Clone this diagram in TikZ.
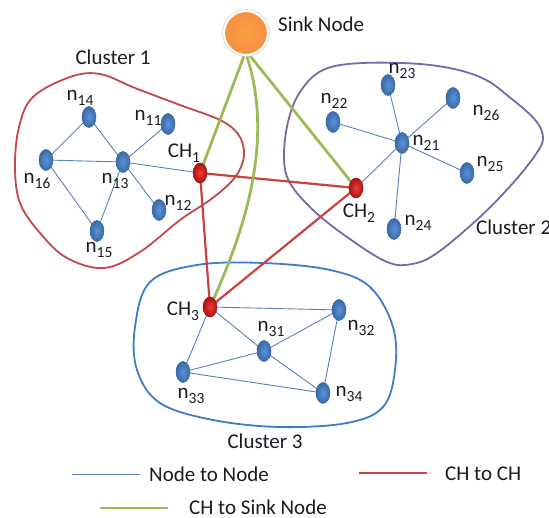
\documentclass[tikz,border=0pt]{standalone}
\usepackage{fontspec}
\setmainfont{Carlito}
\usetikzlibrary{shapes.geometric}

\pgfdeclarelayer{bg}
\pgfsetlayers{bg,main}

\definecolor{textdark}{HTML}{1A1A24}
\definecolor{linkblue}{HTML}{5A80BC}
\definecolor{chred}{HTML}{C8423F}
\definecolor{sinkgreen}{HTML}{9BBB59}
\definecolor{clusterred}{HTML}{C4474A}
\definecolor{clusterpurple}{HTML}{7A66A8}
\definecolor{clusterblue}{HTML}{3E7CC6}
\definecolor{sinkorange}{HTML}{F79646}
\definecolor{sensorin}{HTML}{5A93D6}
\definecolor{sensorout}{HTML}{3A69A8}
\definecolor{headin}{HTML}{EE3B36}
\definecolor{headout}{HTML}{A81414}

% subscripted labels
\newcommand\subtxt[1]{\raisebox{-0.55ex}{\fontsize{15.5}{15.5}\selectfont #1}}
\newcommand\nlab[1]{n\subtxt{#1}}
\newcommand\chlab[1]{CH\subtxt{#1}}

\tikzset{
  sensor/.style={ellipse, minimum width=14pt, minimum height=21pt, inner sep=0pt,
    inner color=sensorin, outer color=sensorout, draw=sensorout, line width=0.5pt},
  headnode/.style={ellipse, minimum width=14pt, minimum height=20pt, inner sep=0pt,
    inner color=headin, outer color=headout, draw=headout, line width=0.5pt},
  sinknode/.style={circle, minimum size=44pt, inner sep=0pt,
    inner color=sinkorange!90!yellow, outer color=sinkorange!95!red,
    draw=white, line width=2.2pt, preaction={draw=black!18, line width=3.6pt}},
  lbl/.style={font=\fontsize{21}{23}\selectfont, text=textdark, inner sep=0pt},
  n2n/.style={draw=linkblue, line width=0.9pt},
  ch2ch/.style={draw=chred, line width=2.2pt},
  ch2sink/.style={draw=sinkgreen, line width=2.8pt},
  hull/.style={line width=1.8pt, smooth cycle, tension=0.6},
}

\begin{document}
\begin{tikzpicture}[x=1pt,y=-1pt]
\useasboundingbox (0,0) rectangle (549,518);

% ---------- nodes ----------
\node[sinknode] (sink) at (246,33) {};
\node[lbl, anchor=west] (sinklbl) at (278,24) {Sink Node};

% cluster 1
\node[sensor] (n14) at (89,117) {};
\node[sensor] (n11) at (168,124) {};
\node[sensor] (n16) at (46,160) {};
\node[sensor] (n13) at (123,162) {};
\node[sensor] (n12) at (159,210) {};
\node[sensor] (n15) at (97,231) {};
\node[headnode] (ch1) at (200,173) {};

% cluster 2
\node[sensor] (n23) at (388,85) {};
\node[sensor] (n22) at (333,122) {};
\node[sensor] (n26) at (453,98) {};
\node[sensor] (n21) at (402,143) {};
\node[sensor] (n25) at (467,173) {};
\node[sensor] (n24) at (394,229) {};
\node[headnode] (ch2) at (356,188) {};

% cluster 3
\node[headnode] (ch3) at (210,307) {};
\node[sensor] (n32) at (339,310) {};
\node[sensor] (n31) at (264,351) {};
\node[sensor] (n33) at (183,372) {};
\node[sensor] (n34) at (323,393) {};

% ---------- labels ----------
\node[lbl] (c1lbl) at (113,57) {Cluster 1};
\node[lbl, anchor=west] (c2lbl) at (476,227) {Cluster 2};
\node[lbl] (c3lbl) at (265,441) {Cluster 3};

\node[lbl] (l14) at (80,98) {\nlab{14}};
\node[lbl] (l11) at (148,118) {\nlab{11}};
\node[lbl] (l16) at (37,181) {\nlab{16}};
\node[lbl] (l13) at (115,181) {\nlab{13}};
\node[lbl] (l12) at (178,203) {\nlab{12}};
\node[lbl] (l15) at (99,250) {\nlab{15}};
\node[lbl] (lch1) at (184,153) {\chlab{1}};

\node[lbl] (l23) at (402,71) {\nlab{23}};
\node[lbl] (l22) at (334,101) {\nlab{22}};
\node[lbl] (l26) at (486,113) {\nlab{26}};
\node[lbl] (l21) at (426,143) {\nlab{21}};
\node[lbl] (l25) at (490,164) {\nlab{25}};
\node[lbl] (l24) at (418,223) {\nlab{24}};
\node[lbl] (lch2) at (359,213) {\chlab{2}};

\node[lbl] (lch3) at (183,311) {\chlab{3}};
\node[lbl] (l31) at (271,329) {\nlab{31}};
\node[lbl] (l32) at (361,328) {\nlab{32}};
\node[lbl] (l33) at (191,396) {\nlab{33}};
\node[lbl] (l34) at (349,394) {\nlab{34}};

% ---------- legend ----------
\coordinate (k1a) at (72,474);  \coordinate (k1b) at (140,474);
\coordinate (k2a) at (359,473); \coordinate (k2b) at (427,473);
\coordinate (k3a) at (100,508); \coordinate (k3b) at (168,508);
\draw[n2n] (k1a) -- (k1b);
\draw[ch2ch] (k2a) -- (k2b);
\draw[ch2sink] (k3a) -- (k3b);
\node[lbl, anchor=west] (t1) at (149,474) {Node to Node};
\node[lbl, anchor=west] (t2) at (445,474) {CH to CH};
\node[lbl, anchor=west] (t3) at (189,507) {CH to Sink Node};

% ---------- background: hulls and links ----------
\begin{pgfonlayer}{bg}
  % cluster outlines
  \draw[hull, clusterred] plot coordinates {
    (70,77) (100,74) (135,88) (180,105) (220,120) (238,134) (244,151) (241,167)
    (231,182) (210,200) (180,220) (140,252) (104,268) (67,258) (40,233) (20,203)
    (15,167) (19,127) (33,97)};
  \draw[hull, clusterpurple] plot coordinates {
    (323,70) (363,63) (430,65) (480,77) (513,100) (536,121) (543,138) (536,154)
    (513,183) (480,217) (437,253) (412,264) (387,262) (347,237) (313,210)
    (290,183) (284,158) (288,122) (300,92)};
  \draw[hull, clusterblue] plot coordinates {
    (197,265) (263,263) (330,270) (370,287) (393,327) (395,370) (383,407)
    (347,423) (280,427) (213,420) (160,403) (137,370) (135,327) (150,282)};

  % node to node links
  \foreach \a/\b in {n14/n16, n14/n13, n16/n13, n16/n15, n13/n15, n13/n11, n13/n12, n13/ch1,
                     n21/n23, n21/n22, n21/n26, n21/n25, n21/n24, n21/ch2,
                     ch3/n32, ch3/n31, ch3/n33, n31/n32, n31/n33, n31/n34, n32/n34, n33/n34}
    \draw[n2n] (\a.center) -- (\b.center);

  % cluster head links
  \draw[ch2ch] (ch1.center) -- (ch2.center);
  \draw[ch2ch] (ch1.center) -- (ch3.center);
  \draw[ch2ch] (ch2.center) -- (ch3.center);

  % cluster head to sink links
  \draw[ch2sink] (sink.-95) -- (ch1.center);
  \draw[ch2sink] (sink.-80) -- (ch2.center);
  \draw[ch2sink] (sink.-88) .. controls (274,140) and (246,228) .. (ch3.center);
\end{pgfonlayer}
\end{tikzpicture}
\end{document}
